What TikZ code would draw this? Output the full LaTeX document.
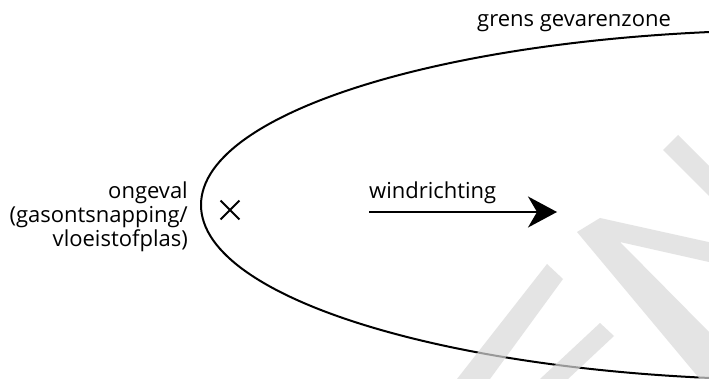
\documentclass[tikz,border=0pt]{standalone}
\usepackage{fontspec}
\setmainfont{Open Sans}
\usetikzlibrary{arrows.meta,shapes.misc}
\begin{document}
\begin{tikzpicture}[x=1pt,y=-1pt,line join=round,
  zone/.style={line width=2pt},
  lbl/.style={inner sep=0pt,font=\fontsize{22}{24}\selectfont},
  wind/.style={line width=2pt,-{Stealth[length=29pt,width=31pt,inset=9pt]}},
  crossmark/.style={cross out,draw,line width=1.8pt,minimum size=17pt,inner sep=0pt},
  wm/.style={fill=black!15,opacity=0.7,draw=none}]
\useasboundingbox (0,0) rectangle (709,379);
\clip (0,0) rectangle (709,379);
\fill[white] (0,0) rectangle (709,379);
% danger zone boundary
\draw[zone] (801,205) ellipse [x radius=600,y radius=175];
% accident location
\node[crossmark] (acc) at (230,210) {};
% wind direction
\coordinate (ws) at (369,212);
\coordinate (we) at (557,212);
\draw[wind] (ws) -- (we);
% labels
\node[lbl,anchor=base west] (wr) at (369,199) {windrichting};
\node[lbl,anchor=base west] (gg) at (477,27) {grens gevarenzone};
\node[lbl,anchor=base east,align=right] (ong) at (188,247) {ongeval\\(gasontsnapping/\\vloeistofplas)};
% watermark
\fill[wm] (663,150) -- (678,135) -- (778,235) -- (763,250) -- cycle;
\fill[wm] (577,232) -- (600,218) -- (740,249) -- (740,269) -- (709,262) -- (620,242)
  -- (709,332) -- (740,363) -- (709,390) -- cycle;
\fill[wm] (547,264) -- (563,279) -- (490,379) -- (457,379) -- cycle;
\fill[wm] (600,323) -- (614,336) -- (568,379) -- (540,379) -- cycle;
\end{tikzpicture}
\end{document}
